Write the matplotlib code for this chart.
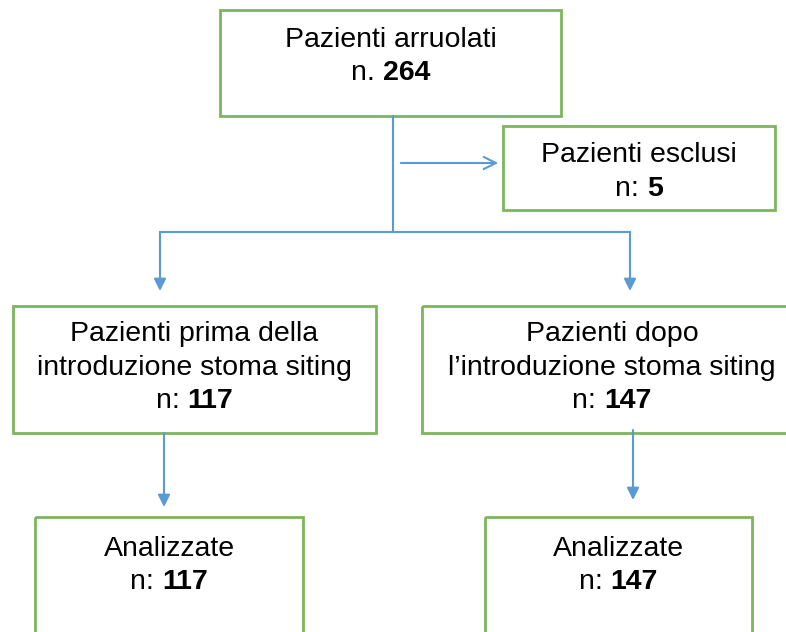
import matplotlib.pyplot as plt
from matplotlib.patches import Rectangle
from matplotlib.offsetbox import TextArea, HPacker, AnnotationBbox

plt.rcParams['font.family'] = ['Liberation Sans', 'DejaVu Sans']

# box labels and counts
titles = [
    "Pazienti arruolati",
    "Pazienti esclusi",
    "Pazienti prima della\nintroduzione stoma siting",
    "Pazienti dopo\nl\u2019introduzione stoma siting",
    "Analizzate",
    "Analizzate",
]
prefixes = ["n. ", "n: ", "n: ", "n: ", "n: ", "n: "]
counts = [264, 5, 117, 147, 117, 147]

# box geometry in pixels: x0, y0, x1, y1 (y grows downwards)
boxes = [
    (220, 10, 561, 116),
    (503, 126, 775, 210),
    (13, 306, 376, 433),
    (422, 306, 802, 433),
    (35, 517, 303, 660),
    (485, 517, 752, 660),
]
# y of each text line centre
line_ys = [
    [40, 73],
    [155, 189],
    [334, 368, 401],
    [334, 368, 401],
    [549, 582],
    [549, 582],
]

GREEN = "#7cb65c"
BLUE = "#5b9bd5"
FS = 20.5

fig = plt.figure(figsize=(7.86, 6.32), dpi=100)
ax = fig.add_axes([0, 0, 1, 1])
ax.set_xlim(0, 786)
ax.set_ylim(632, 0)
ax.axis("off")

for (x0, y0, x1, y1), title, pre, n, ys in zip(boxes, titles, prefixes, counts, line_ys):
    ax.add_patch(Rectangle((x0, y0), x1 - x0, y1 - y0, fill=False,
                           edgecolor=GREEN, linewidth=2))
    cx = (x0 + x1) / 2
    lines = title.split("\n")
    for line, y in zip(lines, ys):
        ax.text(cx, y, line, ha="center", va="center", fontsize=FS)
    pack = HPacker(children=[TextArea(pre, textprops=dict(fontsize=FS)),
                             TextArea(str(n), textprops=dict(fontsize=FS, fontweight="bold"))],
                   pad=0, sep=0, align="baseline")
    ab = AnnotationBbox(pack, (cx, ys[-1]), frameon=False, box_alignment=(0.5, 0.5), pad=0)
    ax.add_artist(ab)

# connectors
ax.plot([393, 393], [116, 232], color=BLUE, lw=1.5)
ax.plot([160, 630], [232, 232], color=BLUE, lw=1.5)
ax.annotate("", xy=(501, 163), xytext=(398, 163),
            arrowprops=dict(arrowstyle="->", color=BLUE, lw=1.5, mutation_scale=22))
for x, ya, yb in [(160, 232, 291), (630, 232, 291), (164, 433, 507), (633, 430, 500)]:
    ax.annotate("", xy=(x, yb), xytext=(x, ya),
                arrowprops=dict(arrowstyle="-|>", color=BLUE, lw=1.5, mutation_scale=18,
                                shrinkA=0, shrinkB=0))

fig.savefig("out.png", dpi=100)
